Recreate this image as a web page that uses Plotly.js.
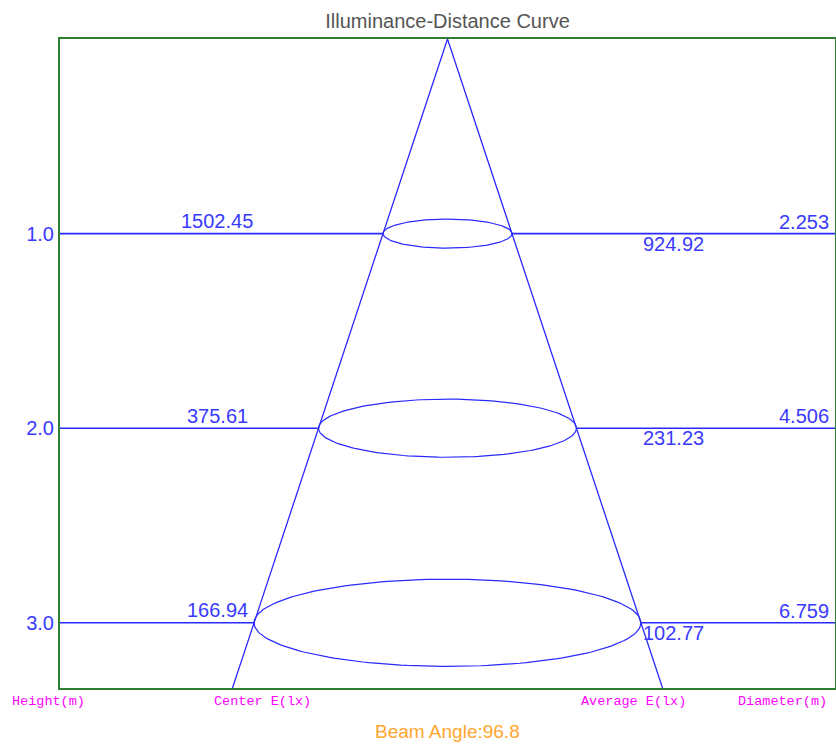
<!DOCTYPE html>
<html>
<head>
<meta charset="utf-8">
<script src="https://cdn.plot.ly/plotly-3.0.1.min.js"></script>
<style>html,body{margin:0;padding:0;background:#fff;}#chart{width:836px;height:744px;}</style>
</head>
<body>
<div id="chart"></div>
<script>
// ---- data ----
const heights = [1, 2, 3];
const heightLabels = ['1.0', '2.0', '3.0'];
const centerE = [1502.45, 375.61, 166.94];
const averageE = [924.92, 231.23, 102.77];
const diameters = [2.253, 4.506, 6.759];
const beamAngle = 96.8;
const bottomLabels = ['Height(m)', 'Center E(lx)', 'Average E(lx)', 'Diameter(m)'];

// ---- style / geometry ----
const X_HALF = 6.77;
const Y_MAX = 3.335;
const ELLIPSE_RATIO = 0.0663; // vertical semi-axis (y units) per horizontal semi-axis (x units)
const BLUE = '#2a2aff';
const TXT_BLUE = '#3a3aff';
const GREEN = '#2e7d32';
const W = 836, H = 744, ML = 60, MR = 1, MT = 39, MB = 56;
const PW = W - ML - MR, PH = H - MT - MB;
const px2paperX = p => (p - ML) / PW;
const px2paperY = p => 1 - (p - MT) / PH;

const traces = [];

// cone
const slope = (diameters[0] / 2) / heights[0];
traces.push({
  x: [-slope * Y_MAX, 0, slope * Y_MAX],
  y: [Y_MAX, 0, Y_MAX],
  mode: 'lines', line: {color: BLUE, width: 1.3}, hoverinfo: 'skip', showlegend: false
});

// horizontal lines
const hx = [], hy = [];
heights.forEach((h, i) => {
  const r = diameters[i] / 2;
  hx.push(-X_HALF, -r, null, r, X_HALF, null);
  hy.push(h, h, null, h, h, null);
});
traces.push({x: hx, y: hy, mode: 'lines', line: {color: BLUE, width: 1.6}, hoverinfo: 'skip', showlegend: false});

// ellipses
heights.forEach((h, i) => {
  const rx = diameters[i] / 2, ry = rx * ELLIPSE_RATIO;
  const ex = [], ey = [];
  for (let k = 0; k <= 180; k++) {
    const t = 2 * Math.PI * k / 180;
    ex.push(rx * Math.cos(t));
    ey.push(h + ry * Math.sin(t));
  }
  traces.push({x: ex, y: ey, mode: 'lines', line: {color: BLUE, width: 1.2}, hoverinfo: 'skip', showlegend: false});
});

const valFont = {family: 'Arial, Liberation Sans, sans-serif', size: 20, color: TXT_BLUE};
const annotations = [];
heights.forEach((h, i) => {
  annotations.push({x: -4.02, y: h, xref: 'x', yref: 'y', text: centerE[i].toFixed(2),
    showarrow: false, xanchor: 'center', yanchor: 'bottom', yshift: -0.5, font: valFont});
  annotations.push({x: px2paperX(643), y: h, xref: 'paper', yref: 'y', text: averageE[i].toFixed(2),
    showarrow: false, xanchor: 'left', yanchor: 'top', yshift: 3, xshift: -2, font: valFont});
  annotations.push({x: px2paperX(829), y: h, xref: 'paper', yref: 'y', text: diameters[i].toFixed(3),
    showarrow: false, xanchor: 'right', yanchor: 'bottom', yshift: -1, xshift: 2, font: valFont});
});

const labFont = {family: 'Liberation Mono, DejaVu Sans Mono, monospace', size: 13.5, color: '#ff00ff'};
const labPos = [12, 214, 581, 738];
bottomLabels.forEach((t, i) => {
  annotations.push({x: px2paperX(labPos[i]), y: px2paperY(701), xref: 'paper', yref: 'paper', text: t,
    showarrow: false, xanchor: 'left', yanchor: 'middle', xshift: -2, font: labFont});
});
annotations.push({x: 0.5, y: px2paperY(731), xref: 'paper', yref: 'paper', text: 'Beam Angle:' + beamAngle,
  showarrow: false, xanchor: 'center', yanchor: 'middle',
  font: {family: 'Arial, Liberation Sans, sans-serif', size: 19, color: '#ffa630'}});

const layout = {
  width: W, height: H,
  margin: {l: ML, r: MR, t: MT, b: MB},
  paper_bgcolor: '#fff', plot_bgcolor: '#fff',
  title: {text: 'Illuminance-Distance Curve', x: 0.5, xref: 'paper', y: 1 - 21 / H, yref: 'container', yanchor: 'middle',
    font: {family: 'Arial, Liberation Sans, sans-serif', size: 20, color: '#555'}},
  xaxis: {range: [-X_HALF, X_HALF], showgrid: false, zeroline: false, showticklabels: false, ticks: '',
    showline: true, mirror: true, linecolor: GREEN, linewidth: 2, fixedrange: true},
  yaxis: {range: [Y_MAX, 0], showgrid: false, zeroline: false, tickvals: heights, ticktext: heightLabels,
    ticks: '', ticklen: 0, ticklabelstandoff: 0, tickfont: {family: 'Arial, Liberation Sans, sans-serif', size: 20, color: TXT_BLUE},
    showline: true, mirror: true, linecolor: GREEN, linewidth: 2, fixedrange: true},
  annotations: annotations,
  showlegend: false
};

Plotly.newPlot('chart', traces, layout, {displayModeBar: false, staticPlot: true});
</script>
</body>
</html>
